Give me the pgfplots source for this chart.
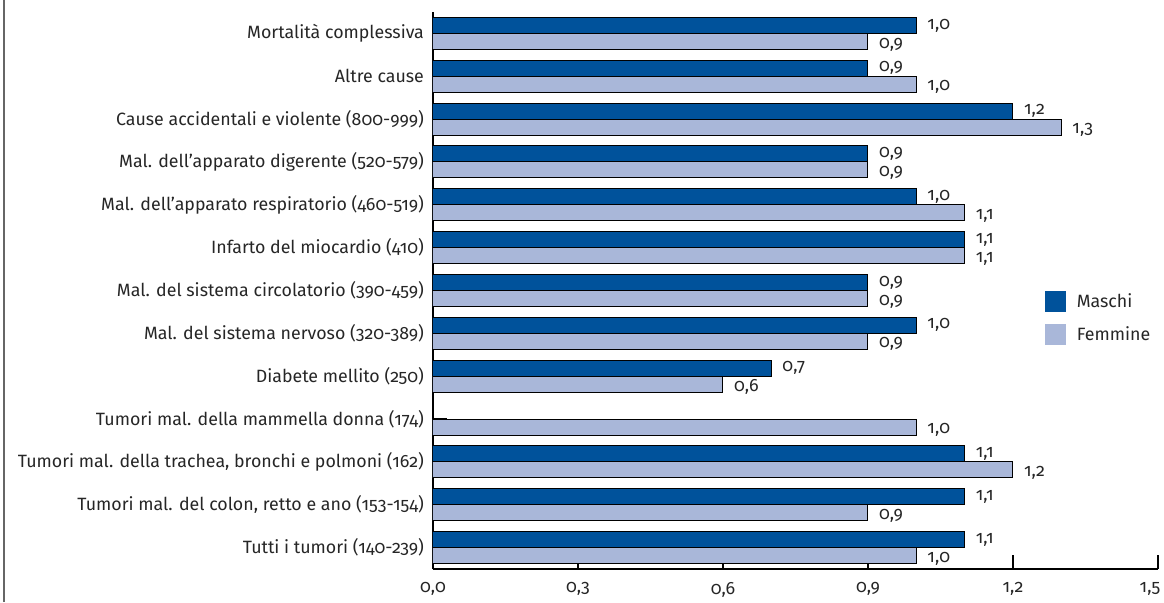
\documentclass[border=0pt]{standalone}
\usepackage{fontspec}
\setmainfont{Fira Sans}[Numbers=OldStyle]
\usepackage{pgfplots}
\pgfplotsset{compat=1.18}
\definecolor{masc}{RGB}{0,82,155}
\definecolor{femm}{RGB}{169,183,217}
\begin{document}
\begin{tikzpicture}
\path[use as bounding box] (0,0) rectangle (582pt,301pt);
\draw[black!60, line width=1pt] (2pt,0) -- (2pt,301pt);
\begin{axis}[
  at={(216.5pt,16.5pt)}, anchor=south west,
  scale only axis, width=362.5pt, height=278.5pt,
  xbar, bar width=8pt,
  xmin=0, xmax=1.5, ymin=-0.5, ymax=12.5,
  axis x line*=bottom, axis y line*=left,
  axis line style={black, line width=0.75pt},
  tick align=inside, major tick length=7pt,
  tick style={black, line width=0.75pt},
  xtick={0,0.3,0.6,0.9,1.2,1.5},
  xticklabel={\ifnum\ticknum=5 \hspace*{-8pt}\fi\pgfmathprintnumber{\tick}},
  ytick={0,...,12},
  yticklabels={Tutti i tumori (140-239),
    {Tumori mal. del colon, retto e ano (153-154)},
    {Tumori mal. della trachea, bronchi e polmoni (162)},
    Tumori mal. della mammella donna (174),
    Diabete mellito (250),
    Mal. del sistema nervoso (320-389),
    Mal. del sistema circolatorio (390-459),
    Infarto del miocardio (410),
    Mal. dell'apparato respiratorio (460-519),
    Mal. dell'apparato digerente (520-579),
    Cause accidentali e violente (800-999),
    Altre cause,
    Mortalità complessiva},
  /pgf/number format/.cd, use comma, fixed, fixed zerofill, precision=1, assume math mode=true,
  /pgfplots/.cd,
  every tick label/.append style={font=\fontsize{8.9}{10}\selectfont, text=black!85},
  yticklabel style={xshift=-1pt},
  xticklabel style={yshift=-3pt},
  nodes near coords,
  every node near coord/.append style={font=\fontsize{8.9}{10}\selectfont, text=black!85, anchor=west, xshift=2pt},
  legend style={draw=none, fill=none, at={(0.835,0.45)}, anchor=west,
    font=\fontsize{8.9}{10}\selectfont, text=black!85, row sep=4pt, column sep=3.5pt,
    legend cell align=left},
  legend image code/.code={\fill[#1, draw=none] (0pt,-5.25pt) rectangle (10.5pt,5.25pt);},
]
\addplot[fill=masc, draw=black, line width=0.5pt, bar shift=4pt] coordinates {
  (1.1,0) (1.1,1) (1.1,2) (0.7,4) (1.0,5) (0.9,6) (1.1,7) (1.0,8) (0.9,9) (1.2,10) (0.9,11) (1.0,12)};
\addlegendentry{Maschi}
\addplot[fill=femm, draw=black, line width=0.5pt, bar shift=-4pt,
  every node near coord/.append style={yshift=-1.5pt}] coordinates {
  (1.0,0) (0.9,1) (1.2,2) (1.0,3) (0.6,4) (0.9,5) (0.9,6) (1.1,7) (1.1,8) (0.9,9) (1.3,10) (1.0,11) (0.9,12)};
\addlegendentry{Femmine}
\end{axis}
\end{tikzpicture}
\end{document}
